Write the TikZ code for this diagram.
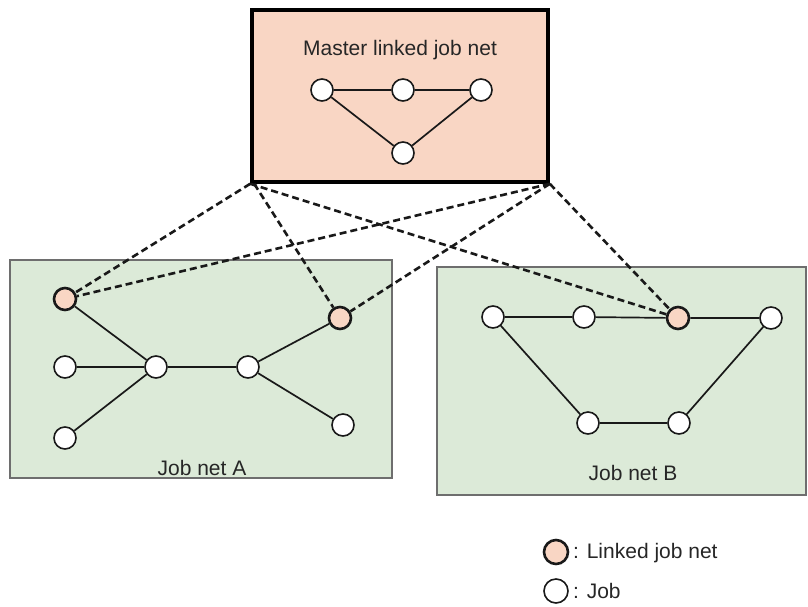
\documentclass[tikz,border=0pt]{standalone}
\usepackage{fontspec}
\setmainfont{Liberation Sans}
\usepackage{tikz}
\usepackage{xcolor}
\definecolor{peach}{HTML}{F9D6C4}
\definecolor{netgreen}{HTML}{DCEAD8}
\definecolor{netgray}{HTML}{6E6E6E}

\begin{document}
\begin{tikzpicture}[x=1pt, y=-1pt,
    jobnode/.style={circle, draw=black!90, fill=white, line width=1.6pt, minimum size=22pt, inner sep=0pt},
    linknode/.style={jobnode, fill=peach, line width=2.6pt},
    netbox/.style={draw=netgray, fill=netgreen, line width=2.2pt, inner sep=0pt},
    jobline/.style={line width=1.7pt, black!90},
    linkline/.style={line width=2.6pt, black!90, dash pattern=on 7pt off 4pt},
    caption/.style={font=\fontsize{21}{25}\selectfont, text=black!85, inner sep=0pt}]
          \useasboundingbox (0,0) rectangle (808,606);
          % job nets
          \node[netbox, minimum width=382pt, minimum height=218pt] (neta) at (201,369) {};
          \node[netbox, minimum width=369pt, minimum height=228pt] (netb) at (621.5,381) {};
          \node[caption, anchor=base] (neta text) at (202,475) {Job net A};
          \node[caption, anchor=base] (netb text) at (633,480) {Job net B};
          % master linked job net
          \node[draw, line width=3.6pt, fill=peach, minimum width=296pt, minimum height=172pt, inner sep=0pt] (master) at (400,96) {};
          \node[caption, anchor=base] (master text) at (400,55) {Master linked job net};
          \node[jobnode] (m1) at (322,90) {};
          \node[jobnode] (m2) at (403,90) {};
          \node[jobnode] (m3) at (481,90) {};
          \node[jobnode] (m4) at (403,153) {};
          \draw[jobline] (m1) -- (m2) -- (m3) -- (m4) -- (m1);
          % job net A
          \node[linknode] (a1) at (65,299) {};
          \node[linknode] (a2) at (340,318) {};
          \node[jobnode] (a3) at (65,367) {};
          \node[jobnode] (a4) at (156,367) {};
          \node[jobnode] (a5) at (248,367) {};
          \node[jobnode] (a6) at (65,438) {};
          \node[jobnode] (a7) at (343,425) {};
          \draw[jobline] (a1) -- (a4);
          \draw[jobline] (a3) -- (a4);
          \draw[jobline] (a6) -- (a4);
          \draw[jobline] (a4) -- (a5);
          \draw[jobline] (a5) -- (a2);
          \draw[jobline] (a5) -- (a7);
          % job net B
          \node[jobnode] (b1) at (493,317) {};
          \node[jobnode] (b2) at (584,317) {};
          \node[linknode] (b3) at (678,318) {};
          \node[jobnode] (b4) at (771,318) {};
          \node[jobnode] (b5) at (588,423) {};
          \node[jobnode] (b6) at (679,423) {};
          \draw[jobline] (b1) -- (b2) -- (b3) -- (b4) -- (b6) -- (b5) -- (b1);
          % links to the master
          \draw[linkline] (master.south west) -- (a1);
          \draw[linkline] (master.south east) -- (a1);
          \draw[linkline] ([xshift=4pt]master.south west) -- (a2);
          \draw[linkline] (master.south east) -- (a2);
          \draw[linkline] (master.south west) -- (b3);
          \draw[linkline] (master.south east) -- (b3);
          % legend
          \node[linknode, minimum size=24pt] (key link) at (556,552) {};
          \node[caption, anchor=base west] (key link text) at (573,558) {: Linked job net};
          \node[jobnode, minimum size=24pt] (key job) at (556,591) {};
          \node[caption, anchor=base west] (key job text) at (573,598) {: Job};
        \end{tikzpicture}
\end{document}
